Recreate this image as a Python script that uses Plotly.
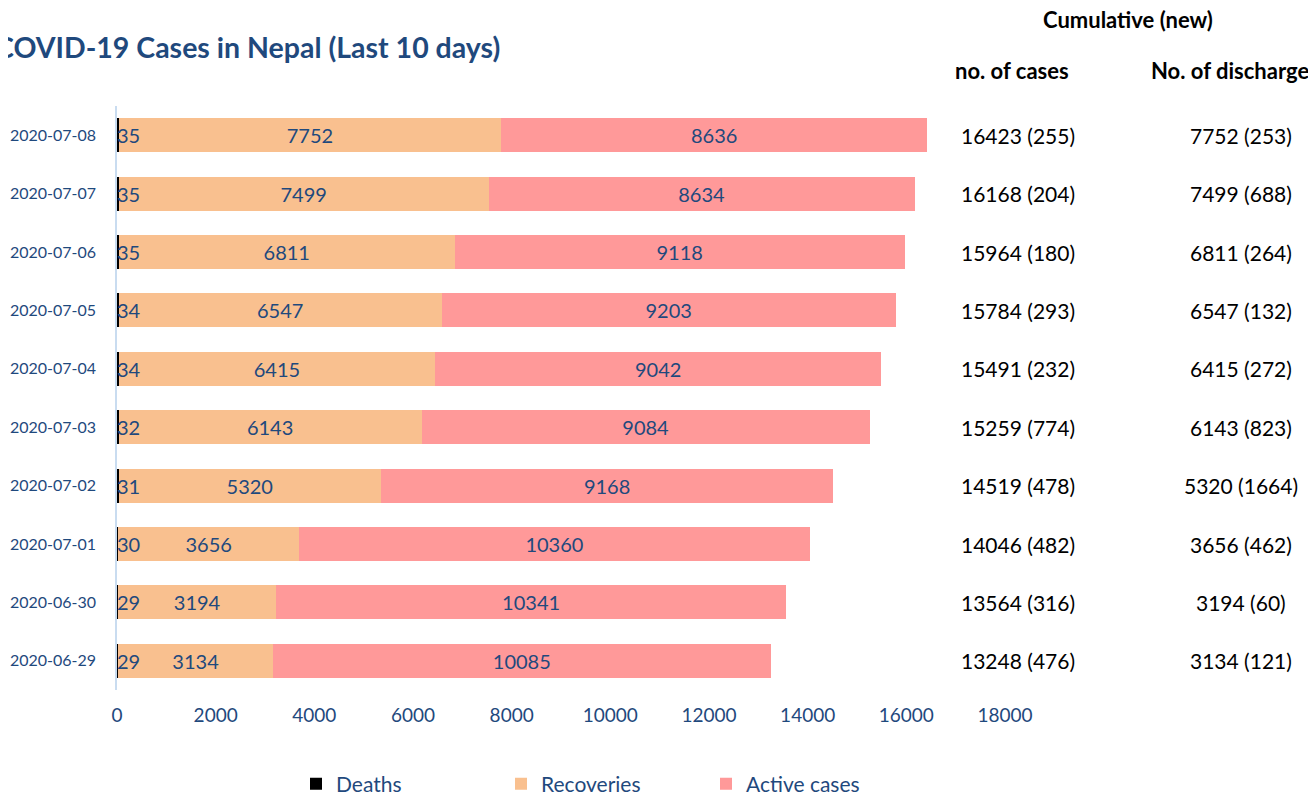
import plotly.graph_objects as go

dates = ["2020-06-29", "2020-06-30", "2020-07-01", "2020-07-02", "2020-07-03",
         "2020-07-04", "2020-07-05", "2020-07-06", "2020-07-07", "2020-07-08"]
deaths = [29, 29, 30, 31, 32, 34, 34, 35, 35, 35]
recoveries = [3134, 3194, 3656, 5320, 6143, 6415, 6547, 6811, 7499, 7752]
active = [10085, 10341, 10360, 9168, 9084, 9042, 9203, 9118, 8634, 8636]
total_cases = [13248, 13564, 14046, 14519, 15259, 15491, 15784, 15964, 16168, 16423]
new_cases = [476, 316, 482, 478, 774, 232, 293, 180, 204, 255]
discharge_new = [121, 60, 462, 1664, 823, 272, 132, 264, 688, 253]

FONT = "Lato"
BLUE = "#1F497D"
OFF = 8  # page body margin
W, H = 1316 - OFF, 796 - OFF
L, R, T, B = 117, 1005, 106, 690  # plot area edges in screen pixels


def xp(px):
    return (px - L) / (R - L)


def yp(py):
    return (B - py) / (B - T)


fig = go.Figure()
fig.add_trace(go.Bar(y=dates, x=deaths, orientation="h", name="Deaths",
                     marker=dict(color="black", line=dict(width=0)),
                     textposition="none", hoverinfo="x+name"))
fig.add_trace(go.Bar(y=dates, x=recoveries, orientation="h", name="Recoveries",
                     marker=dict(color="#F9C08F", line=dict(width=0)),
                     text=recoveries, textposition="inside", insidetextanchor="middle",
                     textfont=dict(color=BLUE, size=20, family=FONT)))
fig.add_trace(go.Bar(y=dates, x=active, orientation="h", name="Active cases",
                     marker=dict(color="#FF9999", line=dict(width=0)),
                     text=active, textposition="inside", insidetextanchor="middle",
                     textfont=dict(color=BLUE, size=20, family=FONT)))

ann = [
    dict(text="<b>COVID-19 Cases in Nepal (Last 10 days)</b>", xref="paper", yref="paper",
         x=xp(-7), y=yp(47), xanchor="left", yanchor="middle",
         showarrow=False, font=dict(size=28.5, color=BLUE, family=FONT)),
    dict(text="<b>Cumulative (new)</b>", xref="paper", yref="paper",
         x=xp(1128), y=yp(20), xanchor="center", yanchor="middle",
         showarrow=False, font=dict(size=22, color="black", family=FONT)),
    dict(text="<b>no. of cases</b>", xref="paper", yref="paper",
         x=xp(1012), y=yp(71), xanchor="center", yanchor="middle",
         showarrow=False, font=dict(size=22, color="black", family=FONT)),
    dict(text="<b>No. of discharge</b>", xref="paper", yref="paper",
         x=xp(1230), y=yp(71), xanchor="center", yanchor="middle",
         showarrow=False, font=dict(size=22, color="black", family=FONT)),
]
for d, dv, tc, nc, rc, dn in zip(dates, deaths, total_cases, new_cases, recoveries, discharge_new):
    # death count sits at the start of each bar
    ann.append(dict(text=str(dv), xref="x", yref="y", x=0, y=d, xanchor="left", yanchor="middle",
                    xshift=-2, showarrow=False, font=dict(size=20, color=BLUE, family=FONT)))
    ann.append(dict(text=f"{tc} ({nc})", xref="paper", yref="y", x=xp(1018), y=d,
                    xanchor="center", yanchor="middle", showarrow=False,
                    font=dict(size=21, color="black", family=FONT)))
    ann.append(dict(text=f"{rc} ({dn})", xref="paper", yref="y", x=xp(1241), y=d,
                    xanchor="center", yanchor="middle", showarrow=False,
                    font=dict(size=21, color="black", family=FONT)))

fig.update_layout(
    width=W, height=H,
    barmode="stack", bargap=0.42,
    paper_bgcolor="white", plot_bgcolor="white",
    margin=dict(l=L - OFF, r=W - (R - OFF), t=T - OFF, b=H - (B - OFF), autoexpand=False),
    font=dict(family=FONT, color=BLUE),
    annotations=ann,
    legend=dict(orientation="h", x=xp(296), xanchor="left", y=yp(784), yanchor="middle",
                font=dict(size=21, color=BLUE, family=FONT), entrywidth=160,
                itemsizing="constant", traceorder="normal"),
    xaxis=dict(range=[0, 18000], dtick=2000, tickformat="d", showgrid=False, zeroline=False,
               showline=False, tickfont=dict(size=19, color=BLUE, family=FONT), ticks="",
               ticklabelstandoff=12),
    yaxis=dict(type="category", showgrid=False, zeroline=False, showline=True,
               linecolor="#C9DCF0", linewidth=1.5, ticks="",
               tickfont=dict(size=16, color=BLUE, family=FONT), ticklabelstandoff=16),
)

fig.write_html("out.html")
